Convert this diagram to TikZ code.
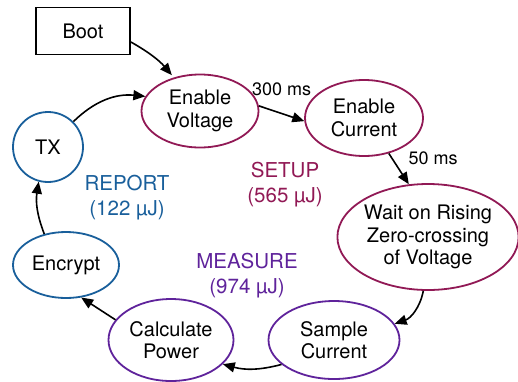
\documentclass[tikz,border=0pt]{standalone}
\usepackage{fontspec}
\setmainfont{TeX Gyre Heros}
\usepackage{tikz}
\usetikzlibrary{arrows.meta,positioning,shapes.geometric}
\definecolor{inkBlack}{RGB}{0, 0, 0}
\definecolor{phaseSetup}{RGB}{145, 25, 85}
\definecolor{phaseMeasure}{RGB}{95, 35, 155}
\definecolor{phaseReport}{RGB}{25, 95, 155}

\begin{document}
\begin{tikzpicture}[x=1pt, y=-1pt,
    state/.style={ellipse, draw, line width=1.8pt, inner sep=0pt, align=center,
        text=inkBlack, font=\fontsize{20pt}{22.5pt}\selectfont},
    setupState/.style={state, draw=phaseSetup},
    measureState/.style={state, draw=phaseMeasure},
    reportState/.style={state, draw=phaseReport},
    arr/.style={-{Triangle[length=12pt,width=10pt]}, line width=1.6pt, draw=inkBlack},
    lbl/.style={font=\fontsize{18pt}{21pt}\selectfont, inner sep=1pt},
    phase/.style={align=center, font=\fontsize{20.5pt}{25pt}\selectfont}]
    \useasboundingbox (0,0) rectangle (518,381);

    % states
    \node[draw=inkBlack, line width=1.8pt, minimum width=94pt, minimum height=47pt,
        font=\fontsize{20pt}{22.5pt}\selectfont] (boot) at (83,31) {Boot};
    \node[setupState, minimum width=117pt, minimum height=73pt] (ev) at (200,111) {Enable\\Voltage};
    \node[setupState, minimum width=118pt, minimum height=76pt] (ec) at (364,118) {Enable\\Current};
    \node[setupState, minimum width=177pt, minimum height=106pt] (wait) at (428,237) {Wait on Rising\\Zero-crossing\\of Voltage};
    \node[measureState, minimum width=131pt, minimum height=78pt] (sample) at (334,340) {Sample\\Current};
    \node[measureState, minimum width=125pt, minimum height=82pt] (calc) at (171,340) {Calculate\\Power};
    \node[reportState, minimum width=106pt, minimum height=66pt] (enc) at (66,265) {Encrypt};
    \node[reportState, circle, minimum size=70pt] (tx) at (48,147) {TX};

    % phase labels
    \node[phase, text=phaseSetup] (setup) at (285,185) {SETUP\\(565 µJ)};
    \node[phase, text=phaseMeasure] (measure) at (247,276) {MEASURE\\(974 µJ)};
    \node[phase, text=phaseReport] (report) at (127,198) {REPORT\\(122 µJ)};

    % transitions
    \draw[arr, shorten >=3pt] ([yshift=-11pt]boot.east) to[bend left=10] (ev.128);
    \draw[arr] (ev.5) -- (ec.183) node[lbl, midway, above=16pt] {300 ms};
    \draw[arr] (ec.-55) -- (wait.110) node[lbl, pos=0.15, right=15pt] {50 ms};
    \draw[arr] (wait.265) to[bend left=30] (sample.15);
    \draw[arr] (sample.205) to[bend left=15] (calc.-25);
    \draw[arr] (calc.160) -- (enc.-65);
    \draw[arr] (enc.125) to[bend left=15] (tx.-105);
    \draw[arr] (tx.45) to[bend left=25] (ev.165) node[lbl, pos=0.3, above left=2pt] {Sleep};
\end{tikzpicture}
\end{document}
